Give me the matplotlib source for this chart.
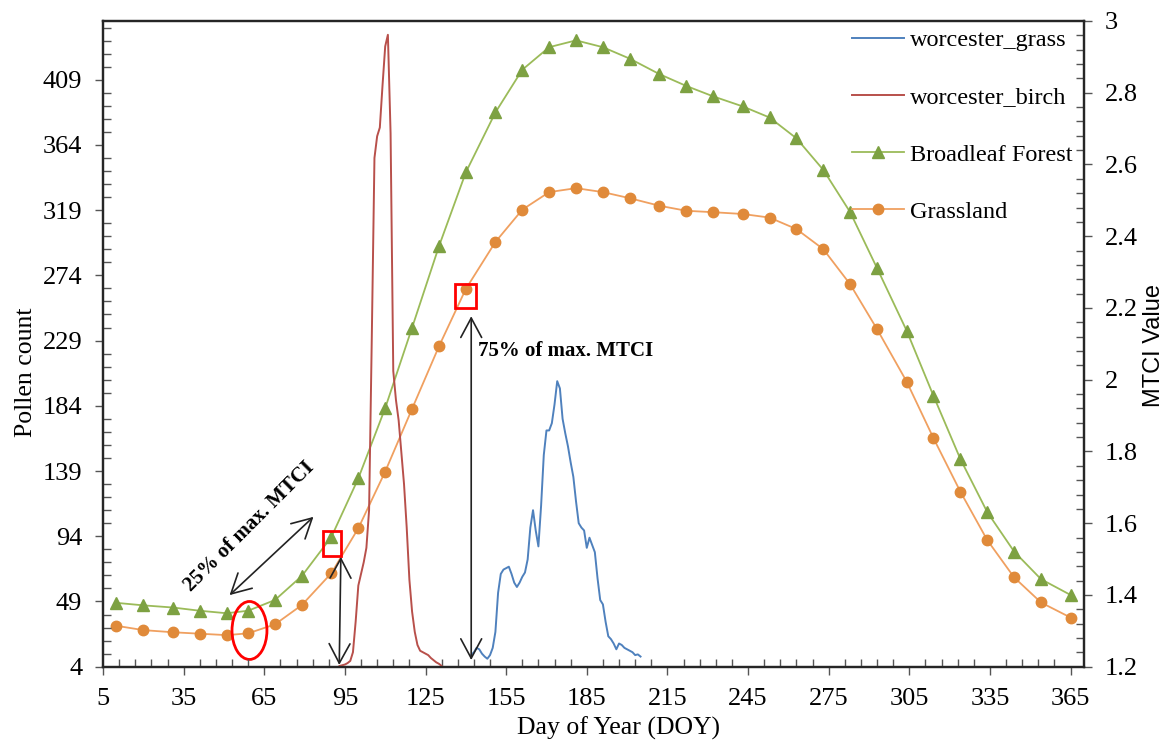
import numpy as np
import matplotlib
matplotlib.use("Agg")
import matplotlib.pyplot as plt
from matplotlib.patches import Ellipse, Rectangle
from matplotlib.ticker import FixedLocator, FormatStrFormatter

plt.rcParams['font.family'] = ['Liberation Serif', 'DejaVu Serif']

# MTCI dekadal composites (day of year of dekad end)
mtci_days = [10, 20, 31, 41, 51, 59, 69, 79, 90, 100, 110, 120, 130, 140, 151, 161, 171, 181,
             191, 201, 212, 222, 232, 243, 253, 263, 273, 283, 293, 304, 314, 324, 334, 344, 354, 365]
broadleaf = [1.378, 1.371, 1.365, 1.356, 1.349, 1.356, 1.386, 1.453, 1.562, 1.725,
             1.921, 2.145, 2.372, 2.578, 2.745, 2.864, 2.927, 2.946, 2.927, 2.895,
             2.852, 2.819, 2.790, 2.762, 2.731, 2.673, 2.585, 2.467, 2.311, 2.137,
             1.955, 1.779, 1.631, 1.521, 1.444, 1.400]
grassland = [1.314, 1.302, 1.296, 1.292, 1.288, 1.293, 1.318, 1.372, 1.461, 1.586,
             1.744, 1.919, 2.093, 2.253, 2.384, 2.474, 2.523, 2.534, 2.523, 2.506,
             2.485, 2.471, 2.467, 2.462, 2.452, 2.420, 2.364, 2.266, 2.141, 1.995,
             1.837, 1.688, 1.553, 1.449, 1.379, 1.337]

# daily pollen counts, Worcester
birch_days = list(range(93, 132))
birch = [4.5, 5, 5.5, 6.5, 8, 14, 35, 60, 68, 76,
         86, 112, 230, 355, 370, 376, 405, 432, 440, 372,
         208, 188, 174, 152, 130, 100, 64, 42, 28, 19,
         15, 14, 13, 12, 10, 8.5, 7, 6, 4.5]
grass_days = list(range(142, 206))
grass = [12, 14, 17, 16, 13, 11, 9.5, 12, 17, 28,
         55, 68, 71, 72, 73, 68, 62, 59, 62, 66,
         69, 78, 100, 112, 98, 87, 115, 150, 167, 167,
         172, 185, 201, 196, 175, 165, 156, 145, 135, 118,
         103, 100, 98, 86, 93, 88, 83, 65, 50, 47,
         35, 25, 23, 20, 16, 20, 19, 17, 16, 15,
         14, 12, 12.5, 11]

x_ticks = list(range(5, 366, 30))
pollen_ticks = list(range(4, 410, 45))
mtci_ticks = [1.2, 1.4, 1.6, 1.8, 2.0, 2.2, 2.4, 2.6, 2.8, 3.0]

fig = plt.figure(figsize=(11.69, 7.42), dpi=100)
ax = fig.add_axes([103 / 1169, 1 - 666.7 / 742, 981 / 1169, 645.7 / 742])
ax2 = ax.twinx()
ax.set_zorder(ax2.get_zorder() + 1)
ax.patch.set_visible(False)

l_grass, = ax.plot(grass_days, grass, color='#4f81bd', lw=1.4, label='worcester_grass')
l_birch, = ax.plot(birch_days, birch, color='#b8504b', lw=1.4, label='worcester_birch')
l_broad, = ax2.plot(mtci_days, broadleaf, color='#9bbb59', lw=1.3, marker='^', ms=8.5,
                    mfc='#7da142', mec='#7da142', label='Broadleaf Forest')
l_grl, = ax2.plot(mtci_days, grassland, color='#f0a060', lw=1.3, marker='o', ms=7.5,
                  mfc='#e08a3a', mec='#e08a3a', label='Grassland')

ax.set_xlim(5, 370)
ax.set_ylim(4, 449.5)
ax2.set_ylim(1.2, 3.0)

ax.set_xticks(x_ticks)
ax.xaxis.set_minor_locator(FixedLocator(np.arange(5, 371, 6)))
ax.set_yticks(pollen_ticks)
ax.yaxis.set_minor_locator(FixedLocator(np.arange(4, 450, 9)))
ax2.set_yticks(mtci_ticks)
ax2.yaxis.set_major_formatter(FormatStrFormatter('%g'))
ax2.yaxis.set_minor_locator(FixedLocator(np.arange(1.2, 3.001, 0.04)))

spine_col = '#262626'
for a in (ax, ax2):
    for s in a.spines.values():
        s.set_color(spine_col)
        s.set_linewidth(1.6)
    a.tick_params(which='major', direction='out', length=6, width=1, color='#555555',
                  labelsize=19, pad=9)
    a.tick_params(which='minor', direction='in', length=5.5, width=1, color='#555555')
ax.tick_params(axis='x', which='both', top=False)
ax.tick_params(axis='y', which='both', right=False)

ax.set_xlabel('Day of Year (DOY)', fontsize=18.5)
ax.xaxis.set_label_coords(0.525, -0.078)
ax.set_ylabel('Pollen count', fontsize=18.5)
ax.yaxis.set_label_coords(-0.067, 0.456)
ax2.set_ylabel('MTCI Value', fontsize=17, family=['Liberation Sans', 'DejaVu Sans'])
ax2.yaxis.set_label_coords(1.06, 0.498)

# annotations
ax.add_patch(Ellipse((59.5, 29), 13, 40, fill=False, ec='#ff0000', lw=2))
ax.add_patch(Rectangle((86.8, 80.5), 6.8, 17.1, fill=False, ec='#ff0000', lw=2))
ax.add_patch(Rectangle((136.0, 251.5), 7.8, 16.4, fill=False, ec='#ff0000', lw=2))

arrow_kw = dict(arrowstyle='<->,head_length=1.4,head_width=0.75', color='#222222', lw=1.2,
                shrinkA=0, shrinkB=0, mutation_scale=10)
ax.annotate('', xy=(92.9, 5.2), xytext=(93.5, 79.8), arrowprops=arrow_kw)
ax.annotate('', xy=(52.1, 53.4), xytext=(83.3, 107.4), arrowprops=arrow_kw)
ax.annotate('', xy=(142.0, 8.6), xytext=(142.0, 245.8), arrowprops=arrow_kw)

ax.text(59.5, 100.5, '25% of max. MTCI', fontsize=15, fontweight='bold', rotation=45,
        rotation_mode='anchor', ha='center', va='center')
ax.text(144.7, 218.2, '75% of max. MTCI', fontsize=15, fontweight='bold',
        ha='left', va='baseline')

leg = ax.legend(handles=[l_grass, l_birch, l_broad, l_grl], loc='upper left',
                bbox_to_anchor=(852 / 1169, 1 - 29 / 742), bbox_transform=fig.transFigure,
                frameon=False, fontsize=17.5, handlelength=2.15, handletextpad=0.25,
                labelspacing=1.45, borderpad=0, borderaxespad=0, numpoints=1)

fig.savefig('out.png', dpi=100, facecolor='white')
